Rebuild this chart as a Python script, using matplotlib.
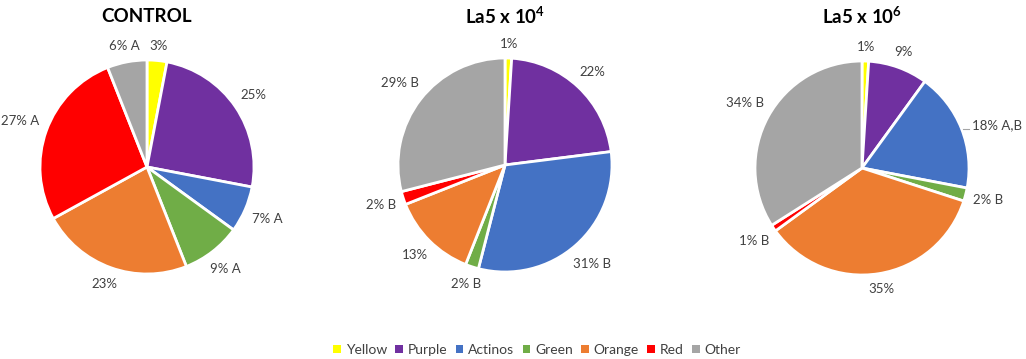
import numpy as np
import matplotlib
matplotlib.use("Agg")
import matplotlib.pyplot as plt
from matplotlib.patches import Patch

categories = ["Yellow", "Purple", "Actinos", "Green", "Orange", "Red", "Other"]
colors = ["#FFFF00", "#7030A0", "#4472C4", "#70AD47", "#ED7D31", "#FF0000", "#A5A5A5"]

control_vals = [3, 25, 7, 9, 23, 27, 6]
control_labels = ["3%", "25%", "7% A", "9% A", "23%", "27% A", "6% A"]

la4_vals = [1, 22, 31, 2, 13, 2, 29]
la4_labels = ["1%", "22%", "31% B", "2% B", "13%", "2% B", "29% B"]

la6_vals = [1, 9, 18, 2, 35, 1, 34]
la6_labels = ["1%", "9%", "18% A,B", "2% B", "35%", "1% B", "34% B"]

titles = ["CONTROL", r"La5 x 10$^{\mathbf{4}}$", r"La5 x 10$^{\mathbf{6}}$"]

plt.rcParams['font.family'] = ['Lato', 'DejaVu Sans']
plt.rcParams['mathtext.fontset'] = 'custom'
plt.rcParams['mathtext.rm'] = 'Lato'
plt.rcParams['mathtext.bf'] = 'Lato:bold'

W, H = 1026, 359
fig = plt.figure(figsize=(W / 100, H / 100), dpi=100)

R_PX = 107
LIM = 1.35
centers = [(147, 167), (505, 165), (862, 168)]
series = [(control_vals, control_labels), (la4_vals, la4_labels), (la6_vals, la6_labels)]
extra_pad = [{}, {}, {2: 0.01}]
ang_shift = [{}, {}, {2: -4}]
leader = [set(), set(), {2}]

axes = []
for (cx, cy), (vals, labs), title in zip(centers, series, titles):
    wpx = 2 * LIM * R_PX
    ax = fig.add_axes([(cx - wpx / 2) / W, (H - cy - wpx / 2) / H, wpx / W, wpx / H])
    wedges, _ = ax.pie(vals, colors=colors, startangle=90, counterclock=False, radius=1,
                       wedgeprops=dict(edgecolor='white', linewidth=2))
    ax.set_xlim(-LIM, LIM)
    ax.set_ylim(-LIM, LIM)
    ax.set_aspect('equal')
    ax.axis('off')
    axes.append((ax, wedges, labs))
    fig.text(cx / W, 1 - 16 / H, title, ha='center', va='center', fontsize=13.5,
             fontweight='bold', color='black')

fig.canvas.draw()
renderer = fig.canvas.get_renderer()
for i, (ax, wedges, labs) in enumerate(axes):
    for j, (w, lab) in enumerate(zip(wedges, labs)):
        ang = np.deg2rad((w.theta1 + w.theta2) / 2 + ang_shift[i].get(j, 0))
        c, s = np.cos(ang), np.sin(ang)
        t = ax.text(0, 0, lab, ha='center', va='center', fontsize=9.5, color='#404040')
        bb = t.get_window_extent(renderer)
        inv = ax.transData.inverted()
        (x0, y0), (x1, y1) = inv.transform([[bb.x0, bb.y0], [bb.x1, bb.y1]])
        tw, th = x1 - x0, y1 - y0
        d = 1.07 + (tw / 2) * abs(c) + (th / 2) * abs(s) + extra_pad[i].get(j, 0)
        tx, ty = d * c, d * s
        t.set_position((tx, ty))
        if j in leader[i]:
            yl = ty - 0.03
            xc = np.sqrt(1 - yl ** 2)
            ax.plot([xc + 0.01, tx - tw / 2 - 0.02], [yl, yl], color='#A5A5A5', lw=0.8,
                    clip_on=False)

handles = [Patch(facecolor=col, edgecolor='none') for col in colors]
fig.legend(handles, categories, loc='center', bbox_to_anchor=(537 / W, 1 - 350 / H), ncol=7,
           frameon=False, handlelength=0.55, handleheight=0.55, handletextpad=0.35,
           columnspacing=0.6, fontsize=10, labelcolor='#404040')

fig.savefig("out.png", dpi=100)
